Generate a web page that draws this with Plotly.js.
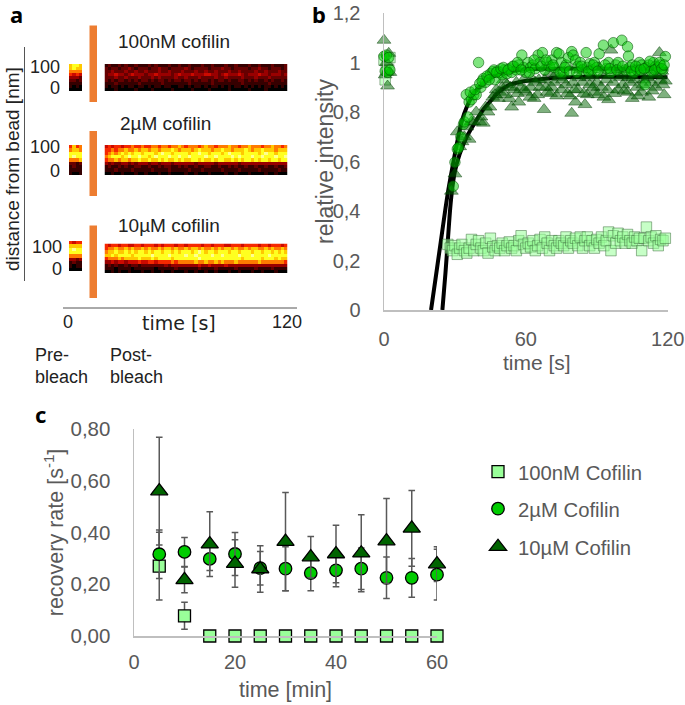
<!DOCTYPE html>
<html><head><meta charset="utf-8">
<script src="https://cdn.plot.ly/plotly-3.0.1.min.js"></script>
<style>html,body{margin:0;padding:0;background:#fff}</style></head>
<body><div id="chart" style="width:685px;height:705px"></div>
<script>
// Panel a: kymograph intensity levels (0 dark .. 9 bright)
const pre100nM=[[7,8,8,7],[7,8,7,7],[6,6,6,6],[5,4,5,4],[3,3,3,2],[2,2,1,2],[1,1,1,1],[1,0,1,0],[0,0,0,0]];
const pre2uM=[[5,7,5,6],[6,7,7,6],[8,8,8,8],[8,9,8,8],[6,6,6,7],[2,2,1,2],[1,2,1,1],[1,1,1,1],[1,0,0,1]];
const pre10uM=[[5,4,5,5],[7,7,7,7],[8,9,8,8],[8,8,8,8],[6,6,6,6],[3,3,2,3],[1,2,1,1],[1,0,1,1],[0,0,0,0]];
const post100nM=[
[1,2,1,1,2,1,2,1,1,2,1,1,1,2,1,2,1,1,1,2,1,1,2,1,1,2,1,1,1,2,1,1,2,1,1,1,2,1,1,2,1,1,1,2,1,1,2,1,1,1,2,1,1,1,2],
[2,1,2,2,1,2,2,3,2,1,2,2,2,1,2,2,3,2,2,1,2,2,2,2,3,2,1,2,2,2,2,1,2,2,2,3,2,2,1,2,2,2,2,1,2,2,3,2,2,1,2,2,2,1,2],
[2,2,3,2,2,2,3,2,2,3,2,2,3,2,2,2,3,2,2,3,2,2,2,3,2,2,2,3,2,2,3,2,2,3,2,2,2,3,2,2,3,2,2,2,2,3,2,2,3,2,2,2,3,2,2],
[2,3,3,4,3,3,2,3,4,3,3,3,2,3,3,4,3,3,3,3,2,3,4,3,3,3,4,3,3,3,4,4,3,3,2,3,4,3,3,3,4,3,2,3,3,3,4,3,3,2,3,3,3,2,3],
[2,2,2,3,2,2,3,2,2,2,3,2,2,2,3,2,3,2,2,2,2,3,2,2,3,2,2,2,3,2,2,2,2,3,2,2,3,2,2,2,2,3,2,2,2,3,2,2,2,3,2,2,2,2,2],
[2,1,2,1,2,2,1,2,1,2,1,2,2,1,2,1,2,2,1,2,1,2,2,1,2,2,1,2,1,2,2,1,2,1,2,2,1,2,1,1,2,2,1,2,1,2,1,1,2,1,2,1,1,2,1],
[1,1,1,2,1,1,1,1,1,1,2,1,1,1,1,1,1,2,1,1,1,1,1,1,1,2,1,1,1,1,1,1,2,1,1,1,1,1,1,1,1,2,1,1,1,1,1,1,1,2,1,1,1,1,1],
[1,0,1,1,0,1,0,1,1,0,1,1,0,1,0,1,1,0,1,1,0,0,1,1,0,1,0,1,1,0,1,0,1,1,0,1,0,1,0,1,1,0,1,0,1,0,1,0,1,1,0,1,0,1,0],
[0,0,0,1,0,0,0,0,0,1,0,0,0,0,1,0,0,0,0,0,1,0,0,0,0,0,1,0,0,0,0,1,0,0,0,0,0,1,0,0,0,0,0,1,0,0,0,0,1,0,0,0,0,0,0]];
const post2uM=[
[4,5,4,5,5,4,5,5,6,5,5,6,5,5,6,6,5,6,6,5,6,6,7,6,5,6,6,6,5,6,7,6,6,5,6,6,6,7,6,6,5,6,6,7,6,6,6,5,6,6,7,6,6,5,6],
[5,5,6,5,6,6,7,6,6,7,6,7,7,6,7,7,6,7,7,7,8,7,6,7,7,7,6,7,8,7,7,7,6,7,7,8,7,7,6,7,7,7,8,7,6,7,7,8,7,7,7,6,7,7,7],
[5,6,7,6,7,8,7,8,7,8,8,7,8,8,8,7,8,9,8,8,7,8,8,8,8,7,8,8,9,8,8,7,8,8,8,7,8,9,8,8,8,7,8,8,8,8,7,8,9,8,8,7,8,8,8],
[6,7,8,8,8,7,8,9,8,8,9,8,8,7,8,9,8,8,8,9,8,8,9,8,8,9,8,8,8,8,9,8,8,9,8,8,8,8,9,8,9,8,8,8,9,8,8,9,8,8,8,9,8,8,9],
[5,6,6,7,6,7,7,6,7,7,8,7,7,8,7,7,8,7,8,7,7,8,7,8,7,7,8,8,7,8,7,7,8,7,8,8,7,7,8,7,8,7,8,8,7,8,7,8,8,7,8,8,7,8,8],
[3,2,3,2,2,3,3,2,3,2,3,3,3,2,3,3,2,3,3,3,2,3,3,3,3,3,3,2,3,3,3,3,3,2,3,3,3,3,3,3,2,3,3,3,3,3,3,3,3,3,3,3,3,3,3],
[1,2,1,1,2,1,2,1,1,2,2,1,1,2,1,1,2,1,2,2,1,1,2,1,2,1,1,2,1,1,2,2,1,1,2,1,1,2,1,2,1,1,2,1,1,2,1,1,2,1,1,2,1,1,2],
[1,1,1,2,1,1,1,1,2,1,1,1,1,1,2,1,1,1,1,2,1,1,1,1,1,2,1,1,1,2,1,1,1,1,1,2,1,1,1,1,2,1,1,1,1,1,2,1,1,1,1,1,2,1,1],
[0,0,1,0,0,1,0,0,0,1,0,0,1,0,0,0,1,0,0,1,0,0,0,0,1,0,0,1,0,0,0,1,0,0,0,0,1,0,0,1,0,0,0,1,0,0,0,0,1,0,0,1,0,0,0]];
const post10uM=[
[5,4,5,5,4,5,5,4,4,5,5,4,5,5,5,4,5,4,5,5,5,4,5,5,4,5,5,5,5,4,5,5,4,5,5,5,4,4,5,5,5,4,5,5,5,5,4,5,5,4,5,5,5,4,5],
[5,6,6,7,6,6,7,6,7,6,6,7,6,7,6,6,7,6,7,7,6,7,6,6,7,6,7,7,6,7,6,6,7,6,7,6,7,7,6,7,6,6,7,6,7,7,6,6,7,6,7,6,6,7,6],
[6,7,7,8,7,7,8,7,8,7,8,8,7,8,7,8,8,7,8,8,7,8,7,8,8,8,7,8,9,8,7,8,8,7,8,8,8,7,8,8,7,8,8,8,7,8,8,7,8,8,7,8,7,8,7],
[7,7,8,7,8,8,8,8,7,8,8,8,8,8,9,8,8,8,8,9,8,8,8,8,9,8,8,9,8,8,8,8,9,8,8,9,8,8,8,8,9,8,8,8,9,8,8,8,8,9,8,8,8,8,8],
[5,6,6,6,7,6,7,7,7,7,8,7,7,7,8,7,8,8,8,8,7,8,8,8,8,8,8,8,9,8,8,8,8,8,8,8,8,8,8,8,8,7,8,8,8,8,8,7,8,8,8,7,8,7,7],
[3,3,4,3,4,4,3,4,4,4,5,4,4,5,5,4,5,5,5,5,6,5,6,6,6,6,6,7,6,6,7,6,6,7,6,7,6,6,6,7,6,6,6,6,6,6,7,6,6,6,6,6,6,6,5],
[1,2,1,2,1,1,2,1,2,2,1,2,2,2,2,2,2,2,3,2,3,3,3,3,3,3,3,3,4,3,3,4,3,3,3,3,4,3,3,3,3,3,3,3,3,3,3,3,3,3,3,3,3,3,3],
[1,1,1,0,1,1,1,1,0,1,1,1,1,1,1,0,1,1,1,1,1,2,1,1,1,1,1,1,2,1,1,1,1,2,1,1,1,1,1,2,1,1,1,1,1,2,1,1,1,1,2,1,1,1,1],
[0,0,1,0,1,0,0,1,0,0,0,1,0,0,1,0,0,1,0,0,1,0,0,0,1,0,0,1,0,0,1,0,0,1,0,0,0,1,0,0,1,0,0,0,1,0,0,1,0,0,0,1,0,0,0]];

// Panel b
const preT=[0,0.5,1,1.5,2,2.5];
const preSquare=[1.01,0.93,0.97,1.0,0.97,1.02];
const preCircle=[1.025,0.965,1.03,0.96,1.02,0.97];
const preTriangle=[1.09,0.95,1.0,0.905,1.037,0.96];
const sqT=[27,28,29,30,31,32,33,34,35,36,37,38,39,40,41,42,43,44,45,46,47,48,49,50,51,52,53,54,55,56,57,58,59,60,61,62,63,64,65,66,67,68,69,70,71,72,73,74,75,76,77,78,79,80,81,82,83,84,85,86,87,88,89,90,91,92,93,94,95,96,97,98,99,100,101,102,103,104,105,106,107,108,109,110,111,112,113,114,115,116,117,118,119];
const sqV=[.265,.25,.24,.26,.225,.25,.265,.24,.23,.25,.285,.24,.265,.28,.25,.24,.27,.23,.29,.255,.24,.26,.25,.27,.24,.26,.275,.25,.26,.24,.28,.30,.265,.25,.27,.255,.28,.24,.26,.285,.25,.295,.27,.24,.28,.26,.25,.28,.27,.26,.295,.25,.28,.27,.29,.26,.295,.25,.28,.295,.26,.28,.25,.285,.27,.295,.26,.28,.315,.24,.30,.27,.31,.28,.295,.27,.305,.28,.27,.295,.28,.29,.24,.29,.335,.28,.295,.27,.30,.26,.285,.28,.29];
const ciT=[29.3,30,31,31.5,32.5,33.6,34,34.8,35.5,36,37,38,39,40,41,42,43,44,45,46,47,48,49,50,51,52,53,54,55,56,57,58.3,59,60,61,62,63,64,65.2,66,67,68,69,70,71,72,73,74,75,76,77,78,79.4,80,81,82,83,84,85.5,86,87,88,89,90,91,92.8,94,95,96,97,98,99,100.6,102,103,103.4,104,105,106,107,108,109,110.5,111,112,113,114,115,116,117,118,119,
 36.5,38.5,40.5,41.5,43.5,44.5,46.5,47.5,49.5,50.5,52.5,54.5,56.5,58,61.5,63.5,66.5,68.5,71.5,74.5,76.5,78.5,81.5,83.5,86.5,88.5,90.5,93.5,95.5,98.5,101,104.5,106.5,108.5,110,112.5,114.5,116.5,117.5,118.5];
const ciV=[.50,.597,.65,.656,.70,.75,.76,.87,.78,.84,.85,.87,.87,1.0,.90,.935,.92,.94,.955,.963,.93,.965,.96,.95,.97,.955,.975,.96,.985,.97,.99,1.03,.98,.96,1.0,.98,.99,.975,1.03,1.0,1.04,.97,1.0,.985,1.01,.98,1.04,1.035,1.0,.96,.99,1.02,1.044,1.03,1.01,.985,1.0,.97,1.04,.98,.995,.97,1.0,.98,1.035,1.07,.975,1.0,.96,1.08,.99,1.0,1.09,.97,1.064,1.026,.98,.99,.96,.97,1.0,.99,.91,.98,.99,.965,1.0,.985,.98,.99,.97,1.024,
 .88,.89,.915,.925,.945,.93,.97,.96,.975,.98,.97,.985,1.0,.97,.96,1.01,.985,1.01,.99,.96,.98,.965,.96,.985,.965,.99,.965,.99,.975,.97,.985,.965,.985,.97,.975,1.005,.97,1.0,.975,.99];
const trT=[28.5,30,31,32,33,34,35,36,37,38,39,40.6,42,43,44.8,46,47,48.4,49,50,51,52,53,54,55,56,57,58,59,60,61.7,62,63.5,64,65,66,67.7,68,69,70,71,72,73,74,75,76,77,78.7,79.4,80,81,82,83,84,85,86,87,88,89,90,91,92,93,94,95,96,97,98,99,100,101,102,103,104,105,106,107,108,109,110,111,112,113,114,115,116.5,117,118,118.5,
 41,44,47.5,50.5,53.5,56.5,59.5,62.5,65.5,68.5,70.5,72.5,75.5,77.5,80.5,82.5,84.5,86.5,88.5,90.5,92.5,94.5,97.5,99.5,101.5,103.5,105.5,107.5,109.5,111.5,113.5,115.5,117.5,119];
const trV=[.48,.55,.72,.66,.68,.70,.74,.69,.76,.76,.80,.76,.755,.82,.82,.86,.87,.855,.88,.90,.87,.91,.855,.82,.89,.92,.84,.90,.93,.88,.86,.90,.855,.92,.87,.90,.81,.93,.88,.96,.90,.92,.865,.94,.89,.95,.91,.865,.795,.92,.84,.89,.97,.92,.83,.87,.91,.95,.88,.92,.98,.90,.86,.93,.85,1.05,.92,.97,.89,.94,.91,.97,.88,.92,.855,.93,.90,.96,.88,.93,.97,.86,.92,.95,.90,1.04,.93,.91,.87,
 .78,.80,.89,.93,.90,.875,.89,.935,.93,.90,.875,.95,.93,.875,.89,.94,.875,.94,.90,.87,.95,.89,.875,.96,.885,.94,.97,.865,.91,.94,.885,.95,.965,.925];
const fitAT=[19.9,22,24,26,27.2,29,31,33,35,38,42,45,49,54,59,70,120];
const fitAV=[0,.14,.275,.41,.485,.58,.68,.765,.82,.875,.916,.937,.954,.965,.972,.975,.975];
const fitBT=[24.7,26,27,28,28.8,30,32,35,39.2,42,45.6,49,53,58,64,76,120];
const fitBV=[0,.15,.28,.41,.485,.56,.63,.70,.768,.81,.85,.885,.91,.922,.93,.94,.94];
const bYTicks=[0,0.2,0.4,0.6,0.8,1,1.2];
const bYLabels=['0','0,2','0,4','0,6','0,8','1','1,2'];
const bXTicks=[0,60,120];

// Panel c
const cT=[5,10,15,20,25,30,35,40,45,50,55,60];
const rate100nM=[.27,.078,0,0,0,0,0,0,0,0,0,0];
const err100nM=[.131,.052,0,0,0,0,0,0,0,0,0,0];
const rate2uM=[.316,.325,.298,.317,.262,.26,.243,.254,.26,.225,.225,.237];
const err2uM=[.094,.056,.045,.083,.065,.085,.068,.064,.08,.08,.075,.098];
const rate10uM=[.56,.217,.355,.28,.259,.365,.305,.317,.32,.367,.416,.278];
const err10uM=[.208,.05,.125,.092,.09,.19,.08,.111,.149,.164,.146,.067];
const cYTicks=[0,0.2,0.4,0.6,0.8];
const cYLabels=['0,00','0,20','0,40','0,60','0,80'];
const cXTicks=[0,20,40,60];

const W=685,H=705,GRAY='#595959',SANS='"Liberation Sans", Arial, sans-serif';
const dx=(a,b)=>[a/W,b/W], dy=(a,b)=>[1-b/H,1-a/H];
const hot=[[0,'#000000'],[1/9,'#350000'],[2/9,'#660000'],[3/9,'#990000'],[4/9,'#cc0a00'],[5/9,'#f52800'],[6/9,'#ff7a00'],[7/9,'#ffc800'],[8/9,'#ffff20'],[1,'#ffff90']];

const legendFont={size:20.3,color:GRAY,family:SANS};
const layout={width:W,height:H,margin:{l:0,r:0,t:0,b:0},paper_bgcolor:'#fff',plot_bgcolor:'rgba(0,0,0,0)',
 font:{family:SANS,color:GRAY},hovermode:false,showlegend:true,
 xaxis:{domain:dx(384,667.7),range:[0,120],tickvals:bXTicks,showgrid:false,zeroline:false,showline:true,linecolor:'#bfbfbf',linewidth:1.5,ticks:'',
  tickfont:{size:20,color:GRAY},ticklabelstandoff:10},
 yaxis:{domain:dy(13,310),range:[0,1.2],tickvals:bYTicks,ticktext:bYLabels,showgrid:false,zeroline:false,showline:true,linecolor:'#bfbfbf',linewidth:1.5,ticks:'',
  tickfont:{size:20,color:GRAY},ticklabelstandoff:18},
 xaxis2:{anchor:'y2',domain:dx(134,437),range:[0,60],tickvals:cXTicks,showgrid:false,zeroline:false,showline:true,linecolor:'#bfbfbf',linewidth:1.5,ticks:'',
  tickfont:{size:20,color:GRAY},ticklabelstandoff:7,title:{text:'time [min]',font:{size:21.5,color:GRAY},standoff:10}},
 yaxis2:{anchor:'x2',domain:dy(429,636),range:[0,0.8],tickvals:cYTicks,ticktext:cYLabels,showgrid:false,zeroline:false,showline:true,linecolor:'#bfbfbf',linewidth:1.5,ticks:'',
  tickfont:{size:20.5,color:GRAY},ticklabelstandoff:18,title:{text:'recovery rate [s<sup>-1</sup>]',font:{size:21.5,color:GRAY},standoff:1}},
 legend:{x:478/W,y:1-472/H,xanchor:'left',yanchor:'middle',bgcolor:'rgba(0,0,0,0)',font:legendFont},
 legend2:{x:478/W,y:1-509/H,xanchor:'left',yanchor:'middle',bgcolor:'rgba(0,0,0,0)',font:legendFont},
 legend3:{x:478/W,y:1-547/H,xanchor:'left',yanchor:'middle',bgcolor:'rgba(0,0,0,0)',font:legendFont},
 shapes:[],annotations:[]};

const traces=[];
const strips=[[pre100nM,69,82,64,91],[post100nM,104.5,287.5,64,91],[pre2uM,69,82,145,175],[post2uM,104.5,287.5,145,175],[pre10uM,69,82,241,271],[post10uM,104.5,287.5,243.5,273]];
strips.forEach((s,i)=>{
 const n=i+3;
 traces.push({type:'heatmap',z:s[0],zmin:0,zmax:9,colorscale:hot,showscale:false,xaxis:'x'+n,yaxis:'y'+n,hoverinfo:'skip',showlegend:false});
 layout['xaxis'+n]={anchor:'y'+n,domain:dx(s[1],s[2]),visible:false,fixedrange:true};
 layout['yaxis'+n]={anchor:'x'+n,domain:dy(s[3],s[4]),visible:false,autorange:'reversed',fixedrange:true};
});
[[25.5,102],[131,196],[225.5,298]].forEach(b=>layout.shapes.push({type:'rect',xref:'paper',yref:'paper',x0:89.5/W,x1:97/W,y0:1-b[1]/H,y1:1-b[0]/H,fillcolor:'#ED7D31',line:{width:0}}));
layout.shapes.push({type:'line',xref:'paper',yref:'paper',x0:24.5/W,x1:24.5/W,y0:1-281/H,y1:1-47/H,line:{color:'#555',width:1}});
layout.shapes.push({type:'line',xref:'paper',yref:'paper',x0:63/W,x1:297/W,y0:1-308/H,y1:1-308/H,line:{color:'#555',width:1}});

const lineFit=(x,y)=>({type:'scatter',mode:'lines',x:x,y:y,line:{color:'#000',width:4,shape:'spline'},showlegend:false,xaxis:'x',yaxis:'y',cliponaxis:false});
traces.push(lineFit(fitAT,fitAV),lineFit(fitBT,fitBV));
const mB=(x,y,sym,fill,ln,sz)=>({type:'scatter',mode:'markers',x:x,y:y,cliponaxis:false,showlegend:false,xaxis:'x',yaxis:'y',
  marker:{symbol:sym,size:sz,color:fill,line:{color:ln,width:1}}});
const SQ='rgba(153,255,153,.55)',SQL='rgba(60,110,60,.5)',CI='rgba(0,204,0,.5)',CIL='rgba(0,80,0,.55)',TR='rgba(0,100,0,.5)',TRL='rgba(0,60,0,.45)';
traces.push(mB(sqT,sqV,'square',SQ,SQL,10.5),mB(preT,preSquare,'square',SQ,SQL,10.5));
traces.push(mB(trT,trV,'triangle-up',TR,TRL,12),mB(preT,preTriangle,'triangle-up',TR,TRL,12));
traces.push(mB(ciT,ciV,'circle',CI,CIL,10.5),mB(preT,preCircle,'circle',CI,CIL,10.5));

const mC=(name,leg,y,e,sym,fill,sz)=>({type:'scatter',mode:'markers',name:name,legend:leg,x:cT,y:y,xaxis:'x2',yaxis:'y2',cliponaxis:false,
  error_y:{type:'data',array:e,visible:true,color:GRAY,thickness:1.5,width:3.3},
  marker:{symbol:sym,size:sz,color:fill,line:{color:'#000',width:1.3}}});
traces.push(mC('100nM Cofilin','legend',rate100nM,err100nM,'square','#99ff99',12));
traces.push(mC('2µM Cofilin','legend2',rate2uM,err2uM,'circle','#00cc00',12.5));
traces.push(mC('10µM Cofilin','legend3',rate10uM,err10uM,'triangle-up','#006400',15));

const ann=(text,x,y,o={})=>layout.annotations.push(Object.assign({text:text,xref:'paper',yref:'paper',x:x/W,y:1-y/H,showarrow:false,xanchor:'left',yanchor:'middle',align:'left',
  font:Object.assign({size:18,color:'#222',family:SANS},o.font||{})},o.extra||{}));
const bold={font:{size:22,color:'#000',family:'"Noto Sans", sans-serif',weight:700}};
ann('a',8,14,bold); ann('b',310,14,bold); ann('c',33,414,bold);
ann('100nM cofilin',116,42,{font:{size:19}});
ann('2µM cofilin',118,123,{font:{size:19}});
ann('10µM cofilin',116,225,{font:{size:19}});
const r={extra:{xanchor:'right'}};
[[62,67,'100'],[62,88,'0'],[62,147,'100'],[62,171,'0'],[64,247,'100'],[64,269,'0']].forEach(t=>ann(t[2],t[0],t[1],r));
ann('distance from bead [nm]',12,169,{font:{size:19},extra:{textangle:-90,xanchor:'center'}});
ann('0',68,322,{extra:{xanchor:'center'}});
ann('120',287,322,{extra:{xanchor:'center'}});
ann('time [s]',179,323,{font:{size:19,family:'"DejaVu Sans", sans-serif'},extra:{xanchor:'center'}});
ann('Pre-',33,355,{font:{size:18}});
ann('bleach',33,377,{font:{size:18}});
ann('Post-',108,355,{font:{size:18}});
ann('bleach',108,377,{font:{size:18}});
// panel b axis titles, placed where the reference puts them
const grayTitle={size:21,color:GRAY,family:SANS};
ann('time [s]',537,362,{font:grayTitle,extra:{xanchor:'center'}});
ann('relative intensity',325,162,{font:{size:23,color:GRAY,family:SANS},extra:{textangle:-90,xanchor:'center'}});

Plotly.newPlot('chart',traces,layout,{displayModeBar:false,staticPlot:true});
</script></body></html>
